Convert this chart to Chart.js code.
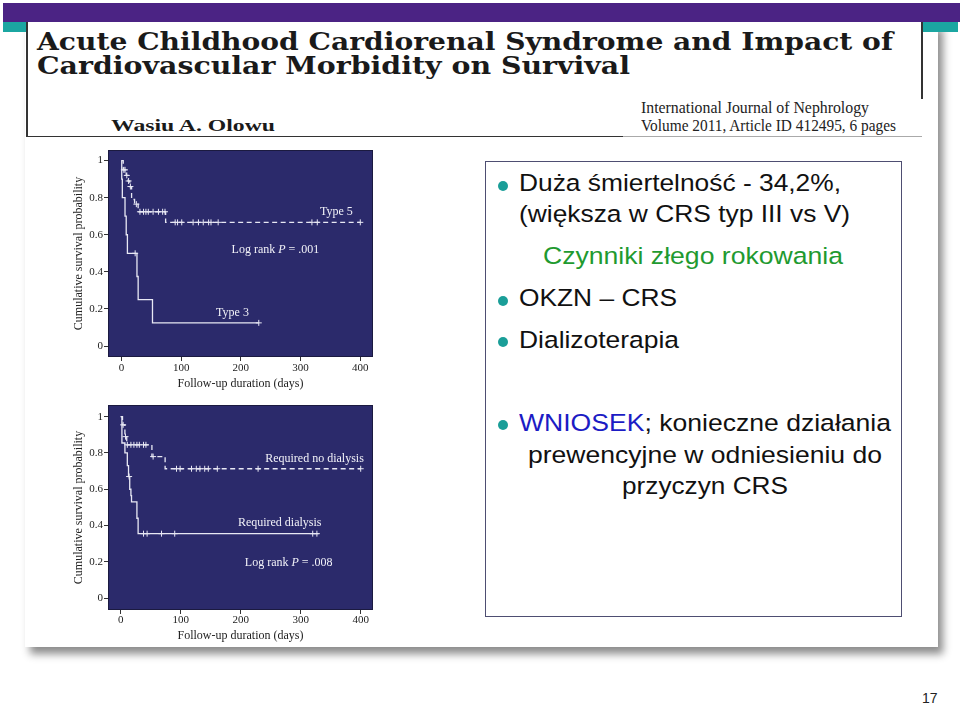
<!DOCTYPE html>
<html><head><meta charset="utf-8">
<script src="https://cdn.jsdelivr.net/npm/chart.js@4/dist/chart.umd.min.js"></script>
<style>
html,body{margin:0;padding:0}
body{width:960px;height:705px;background:#fff;position:relative;overflow:hidden;font-family:"Liberation Sans",Arial,sans-serif}
.a{position:absolute}
#purple{left:3px;top:3px;width:957px;height:19px;background:#4b2384}
#card{left:25px;top:22px;width:913px;height:625px;background:#fff;box-shadow:5px 7px 8px rgba(0,0,0,0.45)}
#tealL{left:3px;top:22px;width:23px;height:10px;background:#1ba6a1}
#tealR{left:923px;top:22px;width:35px;height:10px;background:#1ba6a1}
.hl{background:#333}
.fit{white-space:nowrap;transform-origin:0 0;display:inline-block}
.title{font-family:"DejaVu Serif",serif;font-weight:bold;font-size:25px;line-height:25px;color:#1a1a1a}
.jr{font-family:"Liberation Serif",serif;font-size:17px;line-height:17px;color:#222}
.txt{font-size:24.5px;line-height:24.5px;color:#111}
.bul{width:10px;height:10px;border-radius:50%;background:#1a9e98}
#box{left:485px;top:161px;width:415px;height:454px;border:1.5px solid #4e4e72;background:#fff}
canvas{position:absolute}
</style></head>
<body>
<div class="a" id="card"></div>
<div class="a" id="purple"></div>
<div class="a" id="tealL"></div>
<div class="a" id="tealR"></div>
<div class="a hl" style="left:26px;top:22px;width:1.5px;height:115px"></div>
<div class="a hl" style="left:921px;top:22px;width:1.5px;height:77px"></div>
<div class="a hl" style="left:26px;top:135.5px;width:597px;height:1.5px"></div>
<div class="a" style="left:623px;top:135.5px;width:299px;height:1px;background:#aaa"></div>

<div class="a title fit" id="t1" style="left:37px;top:29px">Acute Childhood Cardiorenal Syndrome and Impact of</div>
<div class="a title fit" id="t2" style="left:37px;top:53px">Cardiovascular Morbidity on Survival</div>
<div class="a fit" id="au" style="left:111px;top:117px;font-family:'Liberation Serif',serif;font-weight:bold;font-size:17px;line-height:17px;color:#1a1a1a">Wasiu A. Olowu</div>
<div class="a jr fit" id="j1" style="left:641px;top:99px">International Journal of Nephrology</div>
<div class="a jr fit" id="j2" style="left:641px;top:117px">Volume 2011, Article ID 412495, 6 pages</div>

<canvas id="c1" width="320" height="255" style="left:60px;top:140px"></canvas>
<canvas id="c2" width="320" height="250" style="left:60px;top:395px"></canvas>

<div class="a" id="box"></div>
<div class="a bul" style="left:497.5px;top:181px"></div>
<div class="a txt fit" id="L1" style="left:519px;top:171.3px">Duża śmiertelność - 34,2%,</div>
<div class="a txt fit" id="L2" style="left:519px;top:202.3px">(większa w CRS typ III vs V)</div>
<div class="a txt fit" id="L3" style="left:543px;top:244.3px;color:#1f9a30">Czynniki złego rokowania</div>
<div class="a bul" style="left:497.5px;top:295.7px"></div>
<div class="a txt fit" id="L4" style="left:519px;top:286px">OKZN – CRS</div>
<div class="a bul" style="left:497.5px;top:337px"></div>
<div class="a txt fit" id="L5" style="left:519px;top:327.6px">Dializoterapia</div>
<div class="a bul" style="left:497.5px;top:420px"></div>
<div class="a txt fit" id="L6" style="left:519px;top:411px"><span style="color:#1c1cc4">WNIOSEK</span>; konieczne działania</div>
<div class="a txt fit" id="L7" style="left:528px;top:442.6px">prewencyjne w odniesieniu do</div>
<div class="a txt fit" id="L8" style="left:622px;top:474.3px">przyczyn CRS</div>

<div class="a" style="left:922px;top:691px;font-size:14px;line-height:14px;color:#222">17</div>

<script>
// ---------- DATA ----------
const xTicks = [0, 100, 200, 300, 400];
const yTicks = [0, 0.2, 0.4, 0.6, 0.8, 1];

// Chart 1: CRS type 5 vs type 3
const type5Times  = [0, 3, 8, 11, 14, 17, 22, 28, 74, 400];
const type5Surv   = [1.0, 0.95, 0.92, 0.89, 0.86, 0.79, 0.765, 0.724, 0.667, 0.667];
const type5Censor = [4, 6, 9, 12, 15, 25, 31, 37, 41, 45, 53, 62, 69, 73, 90, 94, 101, 120, 129, 137, 146, 150, 162, 319, 328, 400];
const type3Times  = [0, 0.5, 1.5, 6, 8, 10, 26, 28, 52, 230];
const type3Surv   = [1.0, 0.9, 0.8, 0.7, 0.6, 0.5, 0.375, 0.25, 0.125, 0.125];
const type3Censor = [23, 230];

// Chart 2: dialysis vs no dialysis
const noDialTimes  = [0, 3, 7, 10, 52, 74, 400];
const noDialSurv   = [1.0, 0.955, 0.89, 0.845, 0.78, 0.713, 0.713];
const noDialCensor = [4, 8, 11, 17, 22, 27, 31, 38, 42, 54, 93, 99, 118, 126, 132, 140, 146, 161, 229, 400];
const dialTimes    = [0, 2, 7, 11, 13, 15, 17, 18, 27, 29, 330];
const dialSurv     = [1.0, 0.855, 0.8, 0.73, 0.67, 0.6, 0.565, 0.53, 0.44, 0.355, 0.355];
const dialCensor   = [14, 38, 44, 68, 90, 320, 327];

// ---------- helpers ----------
function pts(t, s){ return t.map((v,i)=>({x:v, y:s[i]})); }
function survAt(t, s, time){ let v = s[0]; for(let i=0;i<t.length;i++){ if(t[i] <= time) v = s[i]; } return v; }
function cens(t, s, c){ return c.map(v=>({x:v, y:survAt(t, s, v)})); }

const LINE = '#e8e8f4';
const NAVY = '#2b2a6b';
const SERIF = '"Liberation Serif", "Times New Roman", serif';

const bgPlugin = {
  id:'bg',
  beforeDraw(chart){
    const {ctx, chartArea:a} = chart;
    ctx.save();
    ctx.fillStyle = NAVY;
    ctx.fillRect(a.left, a.top, a.right-a.left, a.bottom-a.top);
    ctx.strokeStyle = '#1b1a40'; ctx.lineWidth = 1;
    ctx.strokeRect(a.left+0.5, a.top+0.5, a.right-a.left-1, a.bottom-a.top-1);
    ctx.restore();
  }
};
const annotPlugin = {
  id:'annot',
  afterDatasetsDraw(chart, args, opts){
    const {ctx, scales:{x, y}} = chart;
    (opts.items||[]).forEach(it=>{
      ctx.save();
      ctx.fillStyle = '#f2f2f8';
      ctx.textBaseline = 'middle';
      const segs = it.segs;
      let w = 0;
      segs.forEach(sg=>{ ctx.font = (sg.i?'italic ':'') + '12px ' + SERIF; sg.w = ctx.measureText(sg.t).width; w += sg.w; });
      let px = x.getPixelForValue(it.x) - w/2;
      const py = y.getPixelForValue(it.y);
      segs.forEach(sg=>{ ctx.font = (sg.i?'italic ':'') + '12px ' + SERIF; ctx.textAlign='left'; ctx.fillText(sg.t, px, py); px += sg.w; });
      ctx.restore();
    });
  }
};

function makeChart(id, cfg){
  const datasets = [
    {data: pts(cfg.aT, cfg.aS), stepped:'before', borderColor:LINE, borderWidth:1.3, borderDash:[5,3.5], pointRadius:0, fill:false},
    {data: cens(cfg.aT, cfg.aS, cfg.aC), showLine:false, pointStyle:'cross', pointRadius:3, pointBorderColor:LINE, pointBorderWidth:1},
    {data: pts(cfg.bT, cfg.bS), stepped:'before', borderColor:LINE, borderWidth:1.3, pointRadius:0, fill:false},
    {data: cens(cfg.bT, cfg.bS, cfg.bC), showLine:false, pointStyle:'cross', pointRadius:3, pointBorderColor:LINE, pointBorderWidth:1}
  ];
  return new Chart(document.getElementById(id), {
    type:'line',
    data:{datasets},
    plugins:[bgPlugin, annotPlugin],
    options:{
      responsive:false, animation:false, devicePixelRatio:1,
      layout:{padding:{top:10, right:7, left:0, bottom:0}},
      plugins:{legend:{display:false}, tooltip:{enabled:false}, annot:{items:cfg.annot}},
      scales:{
        x:{type:'linear', min:cfg.xmin, max:cfg.xmax,
          afterBuildTicks:s=>{ s.ticks = xTicks.map(v=>({value:v})); },
          afterFit:s=>{ s.height = cfg.xh; },
          grid:{drawOnChartArea:false, drawTicks:true, tickLength:4, color:'#333'},
          border:{display:false},
          ticks:{font:{family:SERIF, size:11}, color:'#222', padding:cfg.xpad, maxRotation:0, autoSkip:false},
          title:{display:true, text:'Follow-up duration (days)', font:{family:SERIF, size:12}, color:'#222', padding:{top:0, bottom:cfg.tpad}}
        },
        y:{type:'linear', min:cfg.ymin, max:cfg.ymax,
          afterBuildTicks:s=>{ s.ticks = yTicks.map(v=>({value:v})); },
          afterFit:s=>{ s.width = 48; },
          grid:{drawOnChartArea:false, drawTicks:true, tickLength:4, color:'#333'},
          border:{display:false},
          ticks:{font:{family:SERIF, size:11}, color:'#222', padding:1, autoSkip:false,
            callback:v=> (v===0||v===1) ? String(v) : v.toFixed(1)},
          title:{display:true, text:'Cumulative survival probability', font:{family:SERIF, size:12}, color:'#222', padding:{top:11.5, bottom:0}}
        }
      }
    }
  });
}

makeChart('c1', {
  aT:type5Times, aS:type5Surv, aC:type5Censor,
  bT:type3Times, bS:type3Surv, bC:type3Censor,
  xmin:-22.5, xmax:421.3, ymin:-0.059, ymax:1.057, xh:38, xpad:1, tpad:4,
  annot:[
    {x:360, y:0.722, segs:[{t:'Type 5'}]},
    {x:258, y:0.517, segs:[{t:'Log rank '},{t:'P',i:true},{t:' = .001'}]},
    {x:186, y:0.178, segs:[{t:'Type 3'}]}
  ]
});
makeChart('c2', {
  aT:noDialTimes, aS:noDialSurv, aC:noDialCensor,
  bT:dialTimes, bS:dialSurv, bC:dialCensor,
  xmin:-21.2, xmax:420.5, ymin:-0.066, ymax:1.0645, xh:35, xpad:0, tpad:2,
  annot:[
    {x:323, y:0.765, segs:[{t:'Required no dialysis'}]},
    {x:265, y:0.412, segs:[{t:'Required dialysis'}]},
    {x:280, y:0.193, segs:[{t:'Log rank '},{t:'P',i:true},{t:' = .008'}]}
  ]
});

function fit(id, w){
  const el = document.getElementById(id);
  const r = el.getBoundingClientRect().width;
  el.style.transform = 'scaleX(' + (w/r) + ')';
}
fit('t1', 856); fit('t2', 593); fit('au', 164); fit('j1', 228); fit('j2', 255);
fit('L1', 322); fit('L2', 331); fit('L3', 300); fit('L4', 158); fit('L5', 160);
fit('L6', 372); fit('L7', 354); fit('L8', 166);
</script>
</body></html>
